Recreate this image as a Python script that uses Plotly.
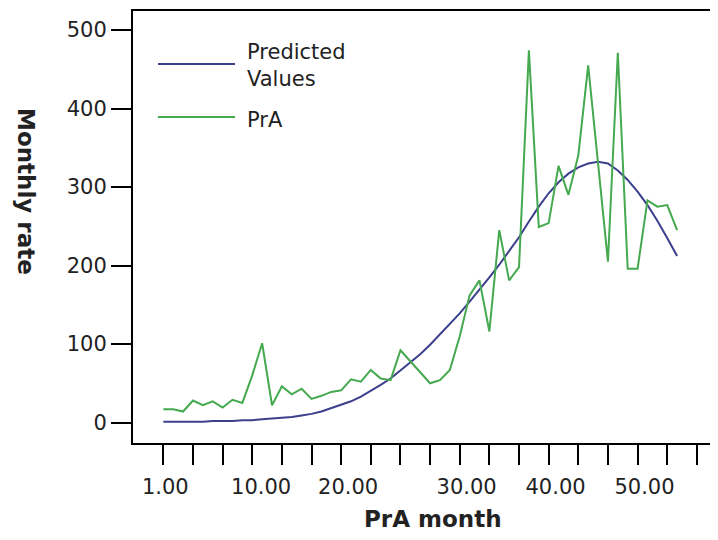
import plotly.graph_objects as go

# ---- data ----
months = list(range(1, 54))
prA = [17, 17, 14, 28, 22, 27, 19, 29, 25, 60,
       101, 22, 46, 36, 43, 30, 34, 39, 41, 55,
       52, 67, 56, 54, 92, 78, 64, 50, 54, 67,
       110, 162, 181, 116, 245, 181, 198, 474, 249, 254,
       327, 290, 340, 455, 330, 205, 471, 196, 196, 283,
       275, 277, 245]
predicted = [1, 1, 1, 1, 1, 2, 2, 2, 3, 3,
             4, 5, 6, 7, 9, 11, 14, 18, 22, 27,
             33, 40, 48, 56, 66, 76, 87, 99, 112, 125,
             139, 154, 169, 185, 201, 218, 236, 256, 275, 292,
             306, 317, 325, 330, 332, 330, 321, 309, 294, 277,
             257, 235, 212]

x_label_pos = [1.2, 10.9, 19.7, 31.7, 40.7, 49.7]
x_labels = ["1.00", "10.00", "20.00", "30.00", "40.00", "50.00"]
x_tick_marks = list(range(1, 56, 3))
y_ticks = [0, 100, 200, 300, 400, 500]
series_names = ["Predicted<br>Values", "PrA"]

BLUE = "#3b3f8c"
GREEN = "#45a94f"
FONT = "DejaVu Sans"

# page body has an 8px margin; figure sized to fit inside the window
OFF = 8
W, H = 710, 532
L, T = 133 - OFF, 11 - OFF
PLOT_BOTTOM = 443 - OFF
R, B = 0, H - PLOT_BOTTOM
PW, PH = W - L - R, H - T - B


def px(xs):
    return (xs - OFF - L) / PW


def py(ys):
    return (PLOT_BOTTOM - (ys - OFF)) / PH


fig = go.Figure()
fig.add_trace(go.Scatter(x=months, y=predicted, mode="lines",
                         line=dict(color=BLUE, width=2), showlegend=False))
fig.add_trace(go.Scatter(x=months, y=prA, mode="lines",
                         line=dict(color=GREEN, width=2), showlegend=False))

fig.update_layout(
    width=W, height=H,
    margin=dict(l=L, r=R, t=T, b=B, pad=0, autoexpand=False),
    paper_bgcolor="white", plot_bgcolor="white",
    font=dict(family=FONT, color="#222"),
    xaxis=dict(range=[-2.07, 57.14], showline=True, linecolor="black",
               linewidth=2, mirror=True, showgrid=False, zeroline=False,
               tickmode="array", tickvals=x_label_pos, ticktext=x_labels,
               ticks="outside", ticklen=24, tickcolor="rgba(0,0,0,0)",
               tickfont=dict(family=FONT, size=21, color="#222"),
               minor=dict(tickmode="array", tickvals=x_tick_marks,
                          ticks="outside", ticklen=20, tickwidth=2,
                          tickcolor="black", showgrid=False)),
    yaxis=dict(range=[-26.1, 524.2], showline=True, linecolor="black",
               linewidth=2, showgrid=False, zeroline=False,
               tickmode="array", tickvals=y_ticks,
               ticks="outside", ticklen=20, tickwidth=2, tickcolor="black",
               tickfont=dict(family=FONT, size=21, color="#222")),
)

# axis titles
fig.add_annotation(text="<b>Monthly rate</b>", xref="paper", yref="paper",
                   x=px(26), y=py(191), xanchor="center", yanchor="middle",
                   textangle=90, showarrow=False,
                   font=dict(family=FONT, size=23, color="#222"))
fig.add_annotation(text="<b>PrA month</b>", xref="paper", yref="paper",
                   x=px(433), y=py(519), xanchor="center", yanchor="middle",
                   showarrow=False, font=dict(family=FONT, size=23, color="#222"))

# legend (manual)
for color, ly, ty, name in [(BLUE, 64, 66, series_names[0]),
                            (GREEN, 117, 120, series_names[1])]:
    fig.add_shape(type="line", xref="paper", yref="paper",
                  x0=px(158), x1=px(235), y0=py(ly), y1=py(ly),
                  line=dict(color=color, width=2))
    fig.add_annotation(text=name, xref="paper", yref="paper",
                       x=px(245), y=py(ty), xanchor="left", yanchor="middle",
                       align="left", showarrow=False,
                       font=dict(family=FONT, size=21, color="#222"))

fig.write_html("out.html")
